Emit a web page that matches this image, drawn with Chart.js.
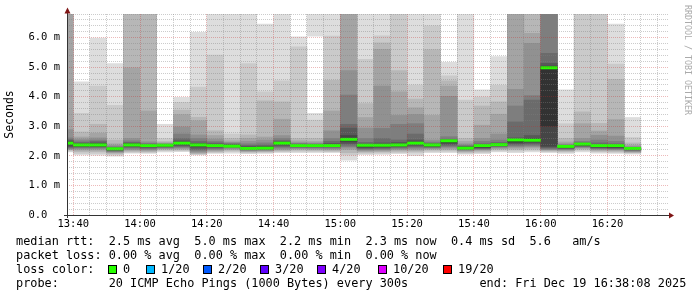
<!DOCTYPE html>
<html>
<head>
<meta charset="utf-8">
<script src="https://cdn.jsdelivr.net/npm/chart.js@4"></script>
<style>
  body { margin: 0; background: #fff; }
  #wrap { position: relative; width: 697px; height: 297px; overflow: hidden; }
  #chart { position: absolute; left: 0; top: 0; }
  .row { position: absolute; white-space: pre; font: 11.85px "DejaVu Sans Mono", monospace; line-height: 14px; color: #000; }
  .sw { position: absolute; width: 7px; height: 7px; border: 1px solid #000; }
  #mark { position: absolute; left: 683px; top: 5px; writing-mode: vertical-rl; font: 8.3px "DejaVu Sans Mono", monospace; color: #aaa; white-space: pre; }
</style>
</head>
<body>
<div id="wrap">
  <canvas id="chart" width="697" height="297"></canvas>
  <div id="mark">RRDTOOL / TOBI OETIKER</div>
  <div class="row" style="left:16px;top:234px">median rtt:  2.5 ms avg  5.0 ms max  2.2 ms min  2.3 ms now  0.4 ms sd  5.6   am/s</div>
  <div class="row" style="left:16px;top:248px">packet loss: 0.00 % avg  0.00 % max  0.00 % min  0.00 % now</div>
  <div class="row" style="left:16px;top:262px">loss color:</div>
  <div id="lossRow"></div>
  <div class="row" style="left:16px;top:276px">probe:       20 ICMP Echo Pings (1000 Bytes) every 300s          end: Fri Dec 19 16:38:08 2025</div>
</div>
<script>
// 5 minute slots (start time), the first one is cut by the left edge
const slots = ["13:35","13:40","13:45","13:50","13:55","14:00","14:05","14:10","14:15","14:20",
  "14:25","14:30","14:35","14:40","14:45","14:50","14:55","15:00","15:05","15:10",
  "15:15","15:20","15:25","15:30","15:35","15:40","15:45","15:50","15:55","16:00",
  "16:05","16:10","16:15","16:20","16:25"];

// median rtt in ms
const median = [2.43, 2.37, 2.37, 2.24, 2.37, 2.35, 2.36, 2.43, 2.37, 2.35,
  2.33, 2.25, 2.26, 2.43, 2.35, 2.35, 2.35, 2.56, 2.36, 2.36,
  2.37, 2.43, 2.37, 2.51, 2.26, 2.35, 2.38, 2.54, 2.53, 4.98,
  2.32, 2.40, 2.35, 2.35, 2.25];

// sorted pings per slot, lower ten (p0..p9) and upper ten (p10..p19), ms
const pingsLow = [
  [2.12,2.15,2.18,2.2,2.22,2.24,2.27,2.3,2.35,2.41],
  [2.02,2.07,2.13,2.18,2.22,2.25,2.28,2.3,2.32,2.34],
  [2.01,2.07,2.13,2.18,2.22,2.25,2.28,2.3,2.32,2.34],
  [1.98,2.02,2.06,2.1,2.12,2.14,2.16,2.18,2.2,2.22],
  [2.08,2.11,2.14,2.17,2.2,2.24,2.27,2.3,2.33,2.36],
  [2.07,2.1,2.13,2.16,2.19,2.22,2.25,2.28,2.3,2.32],
  [2.12,2.16,2.19,2.22,2.24,2.26,2.28,2.3,2.32,2.34],
  [2.13,2.16,2.19,2.22,2.25,2.28,2.31,2.34,2.37,2.4],
  [2.02,2.04,2.06,2.09,2.12,2.16,2.2,2.25,2.3,2.35],
  [2.07,2.1,2.13,2.16,2.19,2.22,2.25,2.28,2.31,2.34],
  [2.08,2.13,2.17,2.2,2.23,2.26,2.28,2.3,2.32,2.34],
  [2.06,2.09,2.12,2.14,2.16,2.18,2.2,2.22,2.24,2.26],
  [2.07,2.1,2.13,2.15,2.17,2.19,2.21,2.23,2.25,2.27],
  [2.1,2.13,2.16,2.19,2.22,2.26,2.3,2.34,2.38,2.42],
  [2.1,2.14,2.18,2.21,2.24,2.26,2.28,2.3,2.32,2.34],
  [2.1,2.14,2.17,2.2,2.23,2.26,2.28,2.3,2.32,2.34],
  [2.1,2.13,2.16,2.19,2.22,2.25,2.28,2.3,2.32,2.34],
  [1.84,2.02,2.1,2.2,2.25,2.3,2.35,2.4,2.46,2.52],
  [2.03,2.07,2.11,2.14,2.17,2.2,2.23,2.26,2.29,2.32],
  [2.04,2.08,2.12,2.15,2.18,2.21,2.24,2.27,2.3,2.33],
  [2.06,2.1,2.14,2.18,2.21,2.24,2.27,2.3,2.33,2.36],
  [2.0,2.09,2.14,2.18,2.22,2.26,2.3,2.34,2.38,2.42],
  [2.1,2.14,2.18,2.21,2.24,2.26,2.28,2.3,2.32,2.34],
  [2.1,2.14,2.18,2.22,2.26,2.3,2.34,2.38,2.42,2.46],
  [2.05,2.08,2.11,2.14,2.17,2.19,2.21,2.23,2.25,2.27],
  [2.06,2.1,2.14,2.17,2.2,2.22,2.24,2.26,2.28,2.3],
  [2.12,2.16,2.2,2.23,2.26,2.29,2.31,2.33,2.35,2.37],
  [2.1,2.15,2.2,2.24,2.28,2.32,2.36,2.4,2.44,2.48],
  [2.12,2.17,2.22,2.26,2.3,2.34,2.38,2.42,2.46,2.5],
  [2.1,2.13,2.16,2.18,2.2,2.22,2.25,2.28,2.32,2.99],
  [2.07,2.11,2.14,2.17,2.19,2.21,2.23,2.25,2.27,2.29],
  [2.12,2.17,2.21,2.24,2.27,2.29,2.31,2.33,2.35,2.37],
  [2.08,2.12,2.15,2.18,2.21,2.23,2.25,2.27,2.29,2.31],
  [2.07,2.11,2.14,2.17,2.2,2.22,2.24,2.26,2.28,2.3],
  [2.05,2.08,2.1,2.12,2.14,2.16,2.18,2.2,2.22,2.24]
];
const pingsHigh = [
  [2.45,2.48,2.52,2.56,2.62,2.9,7.0,7.1,7.3,7.5],
  [2.38,2.4,2.43,2.47,2.52,2.58,2.65,2.82,3.45,4.52],
  [2.39,2.42,2.45,2.5,2.55,2.62,2.78,3.08,4.37,6.0],
  [2.24,2.25,2.27,2.29,2.32,2.36,2.42,2.55,3.72,5.13],
  [2.39,2.41,2.44,2.47,2.52,2.6,4.99,7.0,7.2,7.5],
  [2.34,2.36,2.38,2.41,2.44,2.49,3.53,7.0,7.2,7.5],
  [2.36,2.37,2.38,2.39,2.41,2.43,2.46,2.5,2.6,3.08],
  [2.44,2.47,2.52,2.6,2.75,2.99,3.41,3.56,3.82,3.99],
  [2.38,2.41,2.44,2.5,2.6,2.72,3.2,3.32,4.34,6.19],
  [2.36,2.38,2.41,2.45,2.5,2.58,2.7,2.86,5.42,7.2],
  [2.36,2.37,2.39,2.41,2.44,2.47,2.52,2.6,2.75,7.2],
  [2.28,2.3,2.33,2.37,2.42,2.5,2.6,2.72,5.13,7.2],
  [2.29,2.31,2.34,2.38,2.45,2.55,2.65,3.87,4.18,6.47],
  [2.45,2.47,2.49,2.53,2.6,2.7,3.25,3.84,4.55,7.2],
  [2.36,2.37,2.39,2.41,2.43,2.46,2.52,2.6,5.7,6.04],
  [2.36,2.37,2.38,2.4,2.42,2.45,2.5,2.6,3.22,3.45],
  [2.36,2.39,2.43,2.5,2.6,2.86,3.53,4.57,6.06,7.2],
  [2.6,2.7,2.95,3.08,4.07,4.9,7.0,7.1,7.3,7.5],
  [2.35,2.37,2.41,2.47,2.6,2.95,3.31,3.78,5.28,7.2],
  [2.36,2.39,2.45,2.6,2.94,4.37,5.62,5.84,6.07,7.2],
  [2.39,2.42,2.47,2.55,3.08,3.38,4.18,4.9,7.0,7.2],
  [2.45,2.48,2.55,2.75,3.1,3.41,3.64,3.93,4.41,7.2],
  [2.36,2.38,2.41,2.44,2.48,2.55,3.38,5.61,6.41,7.2],
  [2.49,2.51,2.54,2.58,2.66,4.03,4.37,4.55,4.72,5.18],
  [2.29,2.3,2.32,2.34,2.37,2.42,2.5,2.6,3.9,7.2],
  [2.32,2.34,2.37,2.42,2.5,2.6,3.05,3.7,4.0,4.25],
  [2.39,2.41,2.43,2.47,2.55,2.75,3.42,3.84,4.4,5.37],
  [2.53,2.56,2.62,3.16,3.7,4.26,7.0,7.1,7.3,7.5],
  [2.56,2.6,2.7,3.9,4.05,5.82,6.16,7.0,7.1,7.3],
  [4.99,5.05,5.14,5.48,7.0,7.05,7.1,7.2,7.3,7.5],
  [2.31,2.32,2.33,2.35,2.38,2.42,2.48,2.6,3.1,4.25],
  [2.39,2.4,2.42,2.45,2.5,2.6,3.1,3.5,7.0,7.2],
  [2.33,2.35,2.38,2.45,2.55,2.71,2.85,3.11,7.0,7.2],
  [2.32,2.34,2.37,2.42,2.5,2.68,3.24,4.6,5.12,6.47],
  [2.25,2.26,2.27,2.28,2.3,2.33,2.38,2.45,2.63,3.31]
];

// detached light smoke above the plot top (only seen in the 14:50 slot), [from, to] ms
const detachedSmoke = slots.map(s => s === "14:50" ? [6.04, 7.2] : null);

const xTickLabels = ["13:40","14:00","14:20","14:40","15:00","15:20","15:40","16:00","16:20"];
const yTickLabels = ["0.0  ","1.0 m","2.0 m","3.0 m","4.0 m","5.0 m","6.0 m"];

const lossLabels = ["0","1/20","2/20","3/20","4/20","10/20","19/20"];
const lossColors = ["#26ff00","#00b8ff","#0059ff","#5e00ff","#7e00ff","#dd00ff","#ff0000"];

// loss colour legend row
const swatchX = [108, 146, 203, 260, 317, 378, 443];
const lossRow = document.getElementById("lossRow");
lossLabels.forEach((lab, i) => {
  let sw = document.createElement("div");
  sw.className = "sw";
  sw.style.left = swatchX[i] + "px";
  sw.style.top = "265px";
  sw.style.background = lossColors[i];
  lossRow.appendChild(sw);
  let t = document.createElement("div");
  t.className = "row";
  t.style.left = (swatchX[i] + 15) + "px";
  t.style.top = "262px";
  t.textContent = lab;
  lossRow.appendChild(t);
});

function toMin(s) {
  let p = s.split(":");
  return parseInt(p[0]) * 60 + parseInt(p[1]);
}

const endMin = toMin("16:38") + 8 / 60;
const startMin = endMin - 180;

let datasets = [];
datasets.push({
  data: slots.map((s, i) => ({ x: toMin(s) + 2.5, y: [median[i] - 0.05, median[i] + 0.05] })),
  backgroundColor: lossColors[0],
  order: 0
});
// smoke: band b goes from p[b] to p[19-b], darker towards the middle
for (let b = 0; b < 10; b++) {
  let g = 19 * (9 - b) + 50;
  datasets.push({
    data: slots.map((s, i) => ({ x: toMin(s) + 2.5, y: [pingsLow[i][b], pingsHigh[i][9 - b]] })),
    backgroundColor: "rgb(" + g + "," + g + "," + g + ")",
    order: 10 - b
  });
}
datasets.push({
  data: slots.map((s, i) => ({ x: toMin(s) + 2.5, y: detachedSmoke[i] })),
  backgroundColor: "rgb(221,221,221)",
  order: 11
});
datasets.forEach(d => {
  d.grouped = false;
  d.barPercentage = 1.03;
  d.categoryPercentage = 1;
  d.borderWidth = 0;
});

const monoFont = "'DejaVu Sans Mono', monospace";
const minorGrid = "rgba(128,128,128,0.40)";
const majorGrid = "rgba(200,40,40,0.32)";

const axesPlugin = {
  id: "axes",
  afterDraw(chart) {
    const ctx = chart.ctx;
    const a = chart.chartArea;
    ctx.save();
    ctx.strokeStyle = "#333";
    ctx.lineWidth = 1;
    ctx.beginPath();
    ctx.moveTo(a.left + 0.5, a.bottom + 3);
    ctx.lineTo(a.left + 0.5, 11);
    ctx.moveTo(a.left - 3, a.bottom + 0.5);
    ctx.lineTo(a.right + 2, a.bottom + 0.5);
    ctx.stroke();
    ctx.fillStyle = "#7f1515";
    ctx.beginPath();
    ctx.moveTo(a.left - 2.5, 13.5);
    ctx.lineTo(a.left + 3.5, 13.5);
    ctx.lineTo(a.left + 0.5, 7.5);
    ctx.closePath();
    ctx.fill();
    ctx.beginPath();
    ctx.moveTo(a.right + 1, a.bottom - 2.5);
    ctx.lineTo(a.right + 1, a.bottom + 3.5);
    ctx.lineTo(a.right + 6, a.bottom + 0.5);
    ctx.closePath();
    ctx.fill();
    ctx.restore();
  }
};

new Chart(document.getElementById("chart"), {
  type: "bar",
  data: { datasets: datasets },
  plugins: [axesPlugin],
  options: {
    responsive: false,
    animation: false,
    devicePixelRatio: 1,
    layout: { padding: { left: 0, top: 14, right: 29, bottom: 0 } },
    plugins: { legend: { display: false }, tooltip: { enabled: false } },
    scales: {
      x: {
        type: "linear",
        offset: false,
        min: startMin,
        max: endMin,
        afterBuildTicks: scale => {
          let t = [];
          for (let v = toMin("13:40"); v < endMin; v += 5) t.push({ value: v });
          scale.ticks = t;
        },
        afterFit: scale => { scale.height = 82; },
        ticks: {
          autoSkip: false,
          maxRotation: 0,
          padding: 3,
          color: "#000",
          font: { family: monoFont, size: 10.5 },
          callback: v => {
            let k = (v - toMin("13:40")) / 20;
            return Number.isInteger(k) ? xTickLabels[k] : "";
          }
        },
        grid: {
          z: 1,
          offset: false,
          drawTicks: false,
          color: c => (c.tick && c.tick.value % 20 === 0) ? majorGrid : minorGrid
        },
        border: { display: false, dash: [1, 1] }
      },
      y: {
        min: 0,
        max: 6.8,
        afterBuildTicks: scale => {
          let t = [];
          for (let i = 0; i <= 34; i++) t.push({ value: i / 5 });
          scale.ticks = t;
        },
        afterFit: scale => { scale.width = 67; },
        ticks: {
          autoSkip: false,
          padding: 7,
          color: "#000",
          font: { family: monoFont, size: 10.5 },
          callback: v => {
            let tenth = Math.round(v * 10);
            return tenth % 10 === 0 ? yTickLabels[tenth / 10] : "";
          }
        },
        grid: {
          z: 1,
          drawTicks: false,
          color: c => (c.tick && Math.round(c.tick.value * 10) % 10 === 0) ? majorGrid : minorGrid
        },
        border: { display: false, dash: [1, 1] },
        title: {
          display: true,
          text: "Seconds",
          color: "#000",
          font: { family: monoFont, size: 11.5 },
          padding: { top: 3, bottom: 0 }
        }
      }
    }
  }
});
</script>
</body>
</html>
